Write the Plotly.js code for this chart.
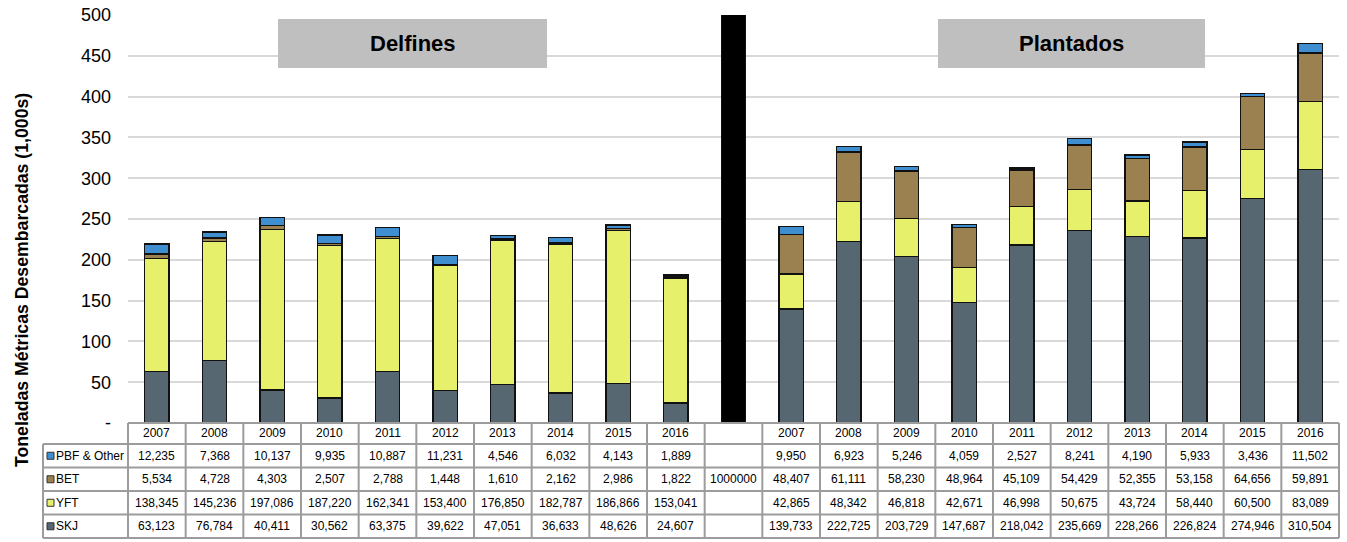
<!DOCTYPE html>
<html>
<head>
<meta charset="utf-8">
<script src="https://cdn.plot.ly/plotly-3.0.1.min.js"></script>
<style>
  html, body { margin: 0; padding: 0; background: #fff; }
  #chart { width: 1347px; height: 542px; }
</style>
</head>
<body>
<div id="chart"></div>
<script>
// Landings by set type (metric tons)
const years = ['2007', '2008', '2009', '2010', '2011', '2012', '2013', '2014', '2015', '2016'];
const groupNames = ['Delfines', 'Plantados'];
const seriesNames = ['PBF & Other', 'BET', 'YFT', 'SKJ'];

// Delfines
const delPBF = [12235, 7368, 10137, 9935, 10887, 11231, 4546, 6032, 4143, 1889];
const delBET = [5534, 4728, 4303, 2507, 2788, 1448, 1610, 2162, 2986, 1822];
const delYFT = [138345, 145236, 197086, 187220, 162341, 153400, 176850, 182787, 186866, 153041];
const delSKJ = [63123, 76784, 40411, 30562, 63375, 39622, 47051, 36633, 48626, 24607];

// Divider column (drawn as a solid black bar in the BET series)
const dividerBET = 1000000;

// Plantados
const plaPBF = [9950, 6923, 5246, 4059, 2527, 8241, 4190, 5933, 3436, 11502];
const plaBET = [48407, 61111, 58230, 48964, 45109, 54429, 52355, 53158, 64656, 59891];
const plaYFT = [42865, 48342, 46818, 42671, 46998, 50675, 43724, 58440, 60500, 83089];
const plaSKJ = [139733, 222725, 203729, 147687, 218042, 235669, 228266, 226824, 274946, 310504];

const yTickVals = [0, 50, 100, 150, 200, 250, 300, 350, 400, 450, 500];
const yTickText = ['-', '50', '100', '150', '200', '250', '300', '350', '400', '450', '500'];

// ---- build columns: 10 Delfines + divider + 10 Plantados ----
const categories = years.map(y => 'D ' + y).concat(['|'], years.map(y => 'P ' + y));
const colYears = years.concat([''], years);
const full = {
  'PBF & Other': delPBF.concat([null], plaPBF),
  'BET': delBET.concat([dividerBET], plaBET),
  'YFT': delYFT.concat([null], plaYFT),
  'SKJ': delSKJ.concat([null], plaSKJ)
};
const colors = {
  'PBF & Other': '#3f8fd0',
  'BET': '#9b8150',
  'YFT': '#e7f06a',
  'SKJ': '#566771'
};

const FONT = 'Liberation Sans, Arial, sans-serif';
const W = 1347, H = 542, L = 128, R = 8, T = 15, B = 119;
const PW = W - L - R, PH = H - T - B;
const px = p => (p - L) / PW;          // pixel -> paper x
const py = p => (H - B - p) / PH;      // pixel -> paper y

// stacked bars, bottom to top
const stackOrder = ['SKJ', 'YFT', 'BET', 'PBF & Other'];
const traces = stackOrder.map(name => {
  const vals = full[name].map(v => v === null ? null : v / 1000);
  const fill = full[name].map((v, i) => (name === 'BET' && i === 10) ? '#000000' : colors[name]);
  return {
    type: 'bar',
    name: name,
    x: categories,
    y: vals,
    marker: { color: fill, line: { color: '#111', width: 1.3 } },
    hoverinfo: 'skip'
  };
});

// ---- data table under the plot ----
const rowEdges = [423, 444, 467.5, 491, 514.5, 538];
const rowCenter = k => (rowEdges[k] + rowEdges[k + 1]) / 2;
const shapes = [];
const annotations = [];
const gridLine = { color: '#9c9c9c', width: 2 };
const nCol = categories.length;
const cellFont = { family: FONT, size: 12, color: '#000' };

// horizontal rules
rowEdges.forEach((e, k) => {
  shapes.push({ type: 'line', xref: 'paper', yref: 'paper',
    x0: k === 0 ? 0 : px(43), x1: 1, y0: py(e), y1: py(e), line: gridLine, layer: 'above' });
});
// vertical rules between columns
for (let i = 0; i <= nCol; i++) {
  shapes.push({ type: 'line', xref: 'paper', yref: 'paper',
    x0: i / nCol, x1: i / nCol, y0: py(rowEdges[0]), y1: py(rowEdges[5]), line: gridLine, layer: 'above' });
}
// left edge of the series-label column
shapes.push({ type: 'line', xref: 'paper', yref: 'paper',
  x0: px(43), x1: px(43), y0: py(rowEdges[1]), y1: py(rowEdges[5]), line: gridLine, layer: 'above' });

// year header row
colYears.forEach((y, i) => {
  if (!y) return;
  annotations.push({ xref: 'x', yref: 'paper', x: i, y: py(rowCenter(0)), text: y,
    xanchor: 'center', yanchor: 'middle', showarrow: false, font: cellFont });
});

// series rows
seriesNames.forEach((name, r) => {
  const k = r + 1;
  const yc = rowCenter(k);
  // legend key
  shapes.push({ type: 'rect', xref: 'paper', yref: 'paper',
    x0: px(47), x1: px(54), y0: py(yc + 3.5), y1: py(yc - 3.5),
    fillcolor: colors[name], line: { color: '#333', width: 1 }, layer: 'above' });
  annotations.push({ xref: 'paper', yref: 'paper', x: px(54), y: py(yc),
    xanchor: 'left', yanchor: 'middle',
    text: name, showarrow: false, font: cellFont });
  full[name].forEach((v, i) => {
    if (v === null) return;
    const txt = i === 10 ? String(v) : v.toLocaleString('en-US');
    annotations.push({ xref: 'x', yref: 'paper', x: i, y: py(yc), text: txt,
      xanchor: 'center', yanchor: 'middle', showarrow: false, font: cellFont });
  });
});

// group header boxes
const boxes = [[278, 547], [938, 1205]];
boxes.forEach((b, g) => {
  shapes.push({ type: 'rect', xref: 'paper', yref: 'paper',
    x0: px(b[0]), x1: px(b[1]), y0: py(68), y1: py(19),
    fillcolor: '#bfbfbf', line: { width: 0 }, layer: 'above' });
  annotations.push({ xref: 'paper', yref: 'paper', x: px((b[0] + b[1]) / 2), y: py(44),
    xanchor: 'center', yanchor: 'middle',
    text: '<b>' + groupNames[g] + '</b>', showarrow: false,
    font: { family: FONT, size: 22, color: '#000' } });
});

// y-axis title
annotations.push({ xref: 'paper', yref: 'paper', x: px(22), y: py(280), textangle: -90,
  xanchor: 'center', yanchor: 'middle',
  text: '<b>Toneladas Métricas Desembarcadas (1,000s)</b>', showarrow: false,
  font: { family: FONT, size: 17.7, color: '#000' } });

const layout = {
  width: W, height: H,
  margin: { l: L, r: R, t: T, b: B, pad: 0 },
  paper_bgcolor: '#fff', plot_bgcolor: '#fff',
  barmode: 'stack',
  bargap: 0.58,
  showlegend: false,
  font: { family: FONT, color: '#000' },
  xaxis: {
    type: 'category',
    showticklabels: false, showgrid: false, zeroline: false, showline: false,
    ticks: '', range: [-0.5, nCol - 0.5], fixedrange: true
  },
  yaxis: {
    range: [0, 500],
    tickvals: yTickVals, ticktext: yTickText,
    tickfont: { family: FONT, size: 18, color: '#000' },
    ticks: '', ticklabelstandoff: 16,
    showgrid: true, gridcolor: '#d9d9d9', gridwidth: 2,
    zeroline: false, showline: false, fixedrange: true
  },
  shapes: shapes,
  annotations: annotations
};

Plotly.newPlot('chart', traces, layout, { displayModeBar: false, staticPlot: true });
</script>
</body>
</html>
